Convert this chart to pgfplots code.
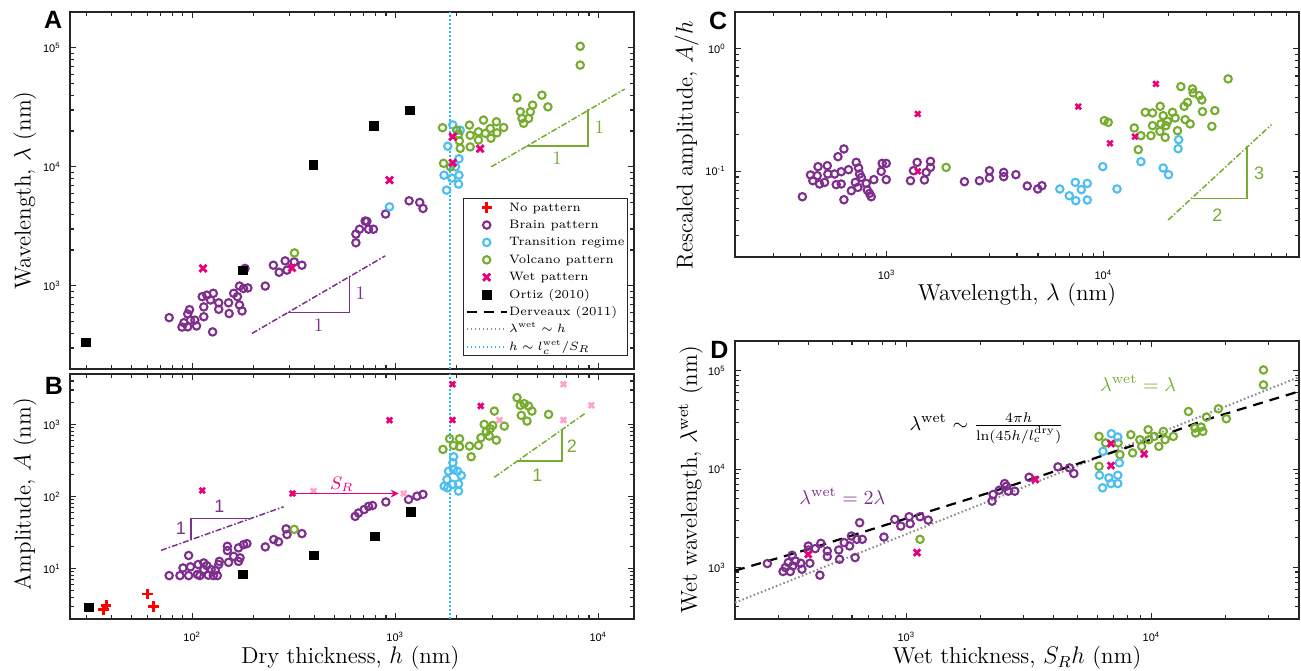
\documentclass[border=0pt]{standalone}
\usepackage{fontspec}
\usepackage{pgfplots}
\pgfplotsset{compat=1.18}
\usetikzlibrary{arrows.meta}
\newfontfamily\tickfont{Liberation Sans}
\newfontfamily\sansf{Liberation Sans}
\definecolor{cpurple}{RGB}{126,47,142}
\definecolor{ccyan}{RGB}{77,190,238}
\definecolor{cgreen}{RGB}{119,172,48}
\definecolor{cmag}{RGB}{230,0,126}
\definecolor{cpink}{RGB}{255,160,205}
\definecolor{cvline}{RGB}{40,185,240}
\definecolor{cgray}{RGB}{140,140,140}
\pgfplotsset{
  every axis/.append style={
    scale only axis, xmode=log, ymode=log, log basis x=10, log basis y=10,
    clip mode=individual,
    axis line style={line width=0.8pt, black!85},
    every tick/.append style={black!85, line width=0.55pt},
    major tick length=3.2pt, minor tick length=1.8pt,
    tick align=inside,
    xticklabel={\tickfont\fontsize{5.5}{6}\selectfont 10\textsuperscript{\pgfmathparse{int(round(\tick))}\pgfmathresult}},
    yticklabel={\tickfont\fontsize{5.5}{6}\selectfont 10\textsuperscript{\pgfmathparse{int(round(\tick))}\pgfmathresult}},
    yticklabel style={xshift=-1.2pt},
    xticklabel style={yshift=-3pt},
    label style={font=\fontsize{11.5}{13}\selectfont},
  },
}
\pgfplotsset{
  qmk/.style={only marks, legend image code/.code={\draw[mark repeat=2,mark phase=2,##1] plot coordinates {(0pt,0pt) (10pt,0pt) (20pt,0pt)};}},
  qbrain/.style={qmk, mark=o, mark size=1.85pt, cpurple, line width=1.05pt},
  qtrans/.style={qmk, mark=o, mark size=1.85pt, ccyan, line width=1.05pt},
  qvolc/.style={qmk, mark=o, mark size=1.85pt, cgreen, line width=1.05pt},
  qwet/.style={qmk, mark=x, mark size=2.3pt, cmag, line width=1.4pt},
  qwetlight/.style={qmk, mark=x, mark size=1.9pt, cpink, line width=1.3pt},
  qortiz/.style={qmk, mark=square*, mark size=2.2pt, black},
  qnopat/.style={qmk, mark=+, mark size=2.6pt, red, line width=1.3pt},
  qderv/.style={black, line width=1.1pt, dash pattern=on 5pt off 3.5pt},
  qlwet/.style={cgray, line width=1pt, dash pattern=on 0.8pt off 1.2pt},
  qhline/.style={cvline, line width=1pt, dash pattern=on 0.8pt off 1.2pt},
  qdd/.style={line width=0.75pt, dash pattern=on 3pt off 1pt on 0.8pt off 1pt},
  qtri/.style={line width=0.75pt},
}
\begin{document}
\begin{tikzpicture}
\useasboundingbox (0,0) rectangle (650.5pt,335pt);
% ---------------- A ----------------
\begin{axis}[
  at={(35pt,150.5pt)}, anchor=south west, width=282pt, height=178.5pt,
  xmin=25, xmax=15000, ymin=200, ymax=2e5,
  xtick={100,1000,10000}, xticklabels={},
  minor xtick={30,40,50,60,70,80,90,200,300,400,500,600,700,800,900,2000,3000,4000,5000,6000,7000,8000,9000},
  ytick={1000,10000,100000},
  minor ytick={200,300,400,500,600,700,800,900,2000,3000,4000,5000,6000,7000,8000,9000,20000,30000,40000,50000,60000,70000,80000,90000,200000},
  ylabel={Wavelength, $\lambda$ (nm)},
  ylabel style={at={(axis description cs:-0.0798,0.5)}, anchor=center},
  legend image code/.code={\draw[mark repeat=2,mark phase=2,#1] plot coordinates {(0pt,0pt) (10pt,0pt) (20pt,0pt)};},
  legend style={at={(0.697,0.478)}, anchor=north west, font=\fontsize{6.1}{7}\selectfont,
    draw=black!85, line width=0.5pt, inner xsep=1pt, inner ysep=0.5pt, row sep=0.9pt,
    nodes={inner sep=0.7pt, text height=4.9pt, text depth=1.5pt}},
  legend cell align=left,
]
\addplot[cvline, line width=1pt, dash pattern=on 0.8pt off 1.2pt, forget plot] coordinates {(1854,200) (1854,2e5)};
\addlegendimage{only marks, mark=+, mark size=2.6pt, red, line width=1.3pt}\addlegendentry{No pattern}
\addplot[qbrain] coordinates {(77,540) (89,450) (91,490) (95,580) (97,630) (98,515) (95,452) (103,515) (105,460) (114,550) (114,665) (112,810) (118,835) (123,760) (127,865) (135,720) (135,635) (126,410) (151,720) (152,585) (160,865) (167,810) (171,690) (176,615) (171,995) (179,950) (188,960) (229,995) (182,1400) (251,1490) (268,1300) (287,1620) (293,1355) (347,1490) (318,1590) (640,2300) (640,2720) (667,2990) (711,3500) (725,3480) (739,2990) (781,2990) (896,4010) (1170,5180) (1320,5020) (1370,4470)};
\addlegendentry{Brain pattern}
\addplot[qtrans] coordinates {(937,4610) (1920,22500) (2090,20300) (1815,14900) (2060,11700) (1980,10000) (1740,8500) (1900,8040) (2060,8500) (2050,7160) (1790,6370)};
\addlegendentry{Transition regime}
\addplot[qvolc] coordinates {(319,1890) (1710,21300) (1730,10700) (1870,10000) (2050,18800) (2090,14300) (2070,16500) (2320,22400) (2340,14700) (2340,18400) (2570,19700) (2570,16800) (2720,24700) (2780,19100) (2940,21000) (2960,17400) (3150,23900) (3170,19300) (3420,21400) (3980,38000) (4130,29000) (4210,25500) (4290,23200) (4540,25500) (4630,29000) (4750,33000) (5280,40000) (5650,31900) (8150,103000) (8150,71600) (2010,20300)};
\addlegendentry{Volcano pattern}
\addplot[qwet, mark size=2.5pt] coordinates {(113,1400) (310,1415) (937,7730) (1920,17900) (1920,10800) (2620,14200)};
\addlegendentry{Wet pattern}
\addplot[qortiz] coordinates {(30,335) (178,1350) (395,10400) (785,22100) (1180,29800)};
\addlegendentry{Ortiz (2010)}
\addlegendimage{black, line width=1.1pt, dash pattern=on 5pt off 3.5pt}\addlegendentry{Derveaux (2011)}
\addlegendimage{cgray, line width=1pt, dash pattern=on 0.8pt off 1.2pt}\addlegendentry{$\lambda^{\mathrm{wet}}\sim h$}
\addlegendimage{cvline, line width=1pt, dash pattern=on 0.8pt off 1.2pt}\addlegendentry{$h\sim l_c^{\mathrm{wet}}/S_R$}
\addplot[cpurple, qdd, forget plot] coordinates {(197,398) (893,1787)};
\addplot[cpurple, qtri, forget plot] coordinates {(298,597) (595,597) (595,1206)};
\addplot[cgreen, qdd, forget plot] coordinates {(2972,10000) (13490,45000)};
\addplot[cgreen, qtri, forget plot] coordinates {(4455,15000) (8890,15000) (8890,30500)};
\node[cpurple, font=\fontsize{9.5}{10}\selectfont] at (axis cs:419,468) {1};
\node[cpurple, font=\fontsize{9.5}{10}\selectfont] at (axis cs:673,863) {1};
\node[cgreen, font=\fontsize{9.5}{10}\selectfont] at (axis cs:6270,11780) {1};
\node[cgreen, font=\fontsize{9.5}{10}\selectfont] at (axis cs:10140,21700) {1};
\node[font=\sansf\bfseries\fontsize{12.5}{13}\selectfont] at (axis description cs:-0.030,0.978) {A};
\end{axis}
% ---------------- B ----------------
\begin{axis}[
  at={(35pt,25.5pt)}, anchor=south west, width=282pt, height=122.5pt,
  xmin=25, xmax=15000, ymin=2, ymax=5000,
  xtick={100,1000,10000},
  minor xtick={30,40,50,60,70,80,90,200,300,400,500,600,700,800,900,2000,3000,4000,5000,6000,7000,8000,9000},
  ytick={10,100,1000},
  minor ytick={2,3,4,5,6,7,8,9,20,30,40,50,60,70,80,90,200,300,400,500,600,700,800,900,2000,3000,4000,5000},
  xlabel={Dry thickness, $h$ (nm)},
  xlabel style={at={(axis description cs:0.497,-0.159)}, anchor=center},
  ylabel={Amplitude, $A$ (nm)},
  ylabel style={at={(axis description cs:-0.0798,0.51)}, anchor=center},
]
\addplot[qhline] coordinates {(1854,2) (1854,5000)};
\addplot[cpurple, qdd] coordinates {(70.2,17.9) (282,72)};
\addplot[cpurple, qtri] coordinates {(193,49.5) (98.6,49.5) (98.6,25.3)};
\addplot[cgreen, qdd] coordinates {(3077,185) (8570,1408)};
\addplot[cgreen, qtri] coordinates {(3980,309) (6620,309) (6620,853)};
\addplot[qbrain] coordinates {(77,8.0) (87,8.0) (90,10.2) (96,15.2) (96,8.0) (98,10.6) (106,8.3) (109,8.0) (114,12.0) (114,9.7) (120,8.1) (124,9.7) (127,8.0) (133,8.0) (135,11.4) (136,12.6) (107,11.4) (118,11.0) (130,9.5) (149,20.4) (149,17.8) (151,12.2) (160,14.8) (169,12.6) (172,14.1) (169,19.4) (179,21.5) (186,22.2) (229,20.0) (252,25.3) (266,23.5) (290,35.6) (293,29.7) (347,30.6) (635,53) (659,59) (703,66) (739,73) (773,75) (899,84) (1163,91) (1280,101) (1369,107)};
\addplot[qvolc] coordinates {(318,35) (1718,450) (1853,632) (1938,511) (2074,632) (2074,490) (2323,500) (2367,356) (2572,511) (2642,653) (2743,1000) (2807,792) (2939,872) (2905,689) (3077,1530) (3148,605) (3445,947) (3020,968) (3980,2350) (4130,1836) (4318,1940) (4536,1795) (4713,1530) (4178,1334) (4457,1111) (5692,1376)};
\addplot[qtrans] coordinates {(1938,356) (1922,294) (1831,224) (1938,237) (2027,224) (2114,196) (1798,172) (1743,139) (1915,147) (2050,150) (1812,132) (2050,119)};
\addplot[qwetlight] coordinates {(396,119) (1100,110) (3265,1150) (6745,3600) (6745,1150) (9245,1840)};
\addplot[qwet, mark size=1.9pt, line width=1.3pt] coordinates {(112,121) (312,110) (1915,3600) (1915,1150) (2640,1800) (937,1140)};
\addplot[qortiz] coordinates {(31,2.9) (177,8.3) (396,15.2) (796,28) (1194,61)};
\addplot[qnopat] coordinates {(36.5,2.7) (37.7,3.06) (60.3,4.45) (64.5,3.0)};
\draw[cmag, line width=0.6pt, -{Stealth[length=4pt,width=4pt]}] (axis cs:312,110) -- (axis cs:1040,110);
\node[cmag, font=\fontsize{9}{10}\selectfont] at (axis cs:546,147) {$S_R$};
\node[cpurple, font=\sansf\fontsize{9}{10}\selectfont] at (axis cs:136,73) {1};
\node[cpurple, font=\sansf\fontsize{9}{10}\selectfont] at (axis cs:88,36.7) {1};
\node[cgreen, font=\sansf\fontsize{9}{10}\selectfont] at (axis cs:5020,196) {1};
\node[cgreen, font=\sansf\fontsize{9}{10}\selectfont] at (axis cs:7410,500) {2};
\node[font=\sansf\bfseries\fontsize{12.5}{13}\selectfont] at (axis description cs:-0.0284,0.953) {B};
\end{axis}
% ---------------- C ----------------
\begin{axis}[
  at={(367.5pt,206.5pt)}, anchor=south west, width=282pt, height=122.5pt,
  xmin=200, xmax=80000, ymin=0.02, ymax=2,
  xtick={1000,10000},
  minor xtick={200,300,400,500,600,700,800,900,2000,3000,4000,5000,6000,7000,8000,9000,20000,30000,40000,50000,60000,70000,80000},
  ytick={0.1,1},
  minor ytick={0.02,0.03,0.04,0.05,0.06,0.07,0.08,0.09,0.2,0.3,0.4,0.5,0.6,0.7,0.8,0.9,2},
  xlabel={Wavelength, $\lambda$ (nm)},
  xlabel style={at={(axis description cs:0.5,-0.155)}, anchor=center},
  ylabel={Rescaled amplitude, $A/h$},
  ylabel style={at={(axis description cs:-0.086,0.457)}, anchor=center},
]
\addplot[cgreen, qdd] coordinates {(19930,0.0401) (59700,0.2407)};
\addplot[cgreen, qtri] coordinates {(25850,0.0598) (46080,0.0598) (46080,0.16)};
\addplot[qbrain] coordinates {(409,0.0621) (446,0.0935) (457,0.0839) (483,0.1093) (479,0.0922) (491,0.0789) (518,0.0813) (533,0.1113) (536,0.0952) (576,0.0952) (586,0.0779) (597,0.1318) (618,0.0994) (618,0.0789) (636,0.1524) (636,0.0587) (668,0.1032) (688,0.0695) (718,0.0813) (725,0.1185) (743,0.1066) (751,0.0952) (765,0.0893) (738,0.0740) (806,0.0798) (815,0.0705) (835,0.0661) (850,0.0621) (874,0.0856) (945,0.1) (955,0.1162) (997,0.1162) (997,0.0856) (1290,0.0839) (1331,0.1013) (1385,0.1185) (1496,0.0851) (1524,0.0981) (1595,0.1207) (1595,0.1078) (2288,0.0824) (2683,0.0839) (2984,0.1013) (2984,0.0883) (3472,0.0981) (3472,0.0905) (3953,0.094) (4460,0.076) (4986,0.0718) (5212,0.0764)};
\addplot[qvolc] coordinates {(1884,0.1078) (10110,0.2596) (10540,0.2512) (13900,0.2262) (14500,0.1504) (14920,0.1957) (15620,0.3034) (16590,0.1957) (16880,0.300) (16880,0.2362) (18250,0.2122) (18310,0.3396) (18900,0.2851) (18450,0.2439) (19310,0.1896) (19450,0.2362) (19790,0.2562) (20860,0.3034) (21470,0.2731) (22000,0.2149) (22800,0.492) (23620,0.3396) (24460,0.3662) (23870,0.2645) (25170,0.2439) (25790,0.471) (25980,0.437) (27690,0.4155) (28500,0.383) (28690,0.3075) (31690,0.2331) (32710,0.3133) (37670,0.5689)};
\addplot[qtrans] coordinates {(6302,0.0718) (6970,0.0633) (7430,0.0813) (7470,0.0576) (7918,0.0709) (8439,0.0798) (8439,0.0584) (9947,0.1093) (11570,0.0718) (14920,0.120) (18900,0.1066) (20000,0.094) (22280,0.1815) (22150,0.1532)};
\addplot[qwet, mark size=1.9pt, line width=1.3pt] coordinates {(1394,0.2944) (1394,0.1) (7670,0.3378) (17500,0.5176) (10740,0.1693) (14000,0.1921)};
\node[cgreen, font=\sansf\fontsize{9}{10}\selectfont] at (axis cs:33650,0.0435) {2};
\node[cgreen, font=\sansf\fontsize{9}{10}\selectfont] at (axis cs:52360,0.0967) {3};
\node[font=\sansf\bfseries\fontsize{12.5}{13}\selectfont] at (axis description cs:-0.030,0.963) {C};
\end{axis}
% ---------------- D ----------------
\begin{axis}[
  at={(367.5pt,25.5pt)}, anchor=south west, width=282pt, height=139pt,
  xmin=200, xmax=40000, ymin=300, ymax=2e5,
  xtick={1000,10000},
  minor xtick={200,300,400,500,600,700,800,900,2000,3000,4000,5000,6000,7000,8000,9000,20000,30000,40000},
  ytick={1000,10000,100000},
  minor ytick={300,400,500,600,700,800,900,2000,3000,4000,5000,6000,7000,8000,9000,20000,30000,40000,50000,60000,70000,80000,90000,200000},
  xlabel={Wet thickness, $S_Rh$ (nm)},
  xlabel style={at={(axis description cs:0.5,-0.141)}, anchor=center},
  ylabel={Wet wavelength, $\lambda^{\mathrm{wet}}$ (nm)},
  ylabel style={at={(axis description cs:-0.079,0.5)}, anchor=center},
]
\addplot[qlwet] coordinates {(200,440) (40000,86000)};
\addplot[qderv] coordinates {(200,930) (400,1540) (1000,3150) (2275,5950) (5870,12900) (10000,20000) (16220,31000) (40000,61500)};
\addplot[qbrain] coordinates {(271,1098) (314,911) (321,1000) (330,1124) (336,911) (342,1332) (344,1038) (353,1166) (371,1105) (375,961) (398,1654) (398,1507) (404,1105) (425,1557) (448,1762) (444,836) (476,1472) (476,1292) (530,1507) (534,1213) (558,1791) (587,1654) (597,2089) (618,1262) (628,1934) (645,2854) (661,1934) (810,2040) (897,3083) (949,2637) (1027,3282) (1036,2788) (1137,3282) (1228,3033) (2237,4721) (2259,5520) (2393,6100) (2518,7130) (2561,6700) (2605,5960) (2770,5960) (3168,8260) (4155,10530) (4631,10280) (4823,9006)};
\addplot[qvolc] coordinates {(1137,1934) (6112,21480) (6112,10670) (6500,18420) (7316,18420) (7440,14020) (8238,22350) (8378,14590) (8966,19890) (9120,17010) (9694,25110) (9758,19890) (10270,21480) (10720,17010) (11180,24130) (11370,19890) (12280,21480) (14160,38460) (15050,26120) (15150,23250) (15940,26730) (16210,24130) (16770,33760) (18760,40960) (20210,32440) (28650,101600) (28650,71660)};
\addplot[qtrans] coordinates {(6340,15140) (6864,22870) (7290,21180) (6140,8654) (6704,8145) (7290,8654) (6317,6450) (7290,7130) (7400,11560) (6837,7130)};
\addplot[qwet] coordinates {(398,1363) (1106,1418) (3359,7830) (6837,18120) (6837,10850) (9335,14250)};
\node[cpurple, font=\fontsize{10}{12}\selectfont] at (axis cs:548,5305) {$\lambda^{\mathrm{wet}}=2\lambda$};
\node[cgreen, font=\fontsize{10}{12}\selectfont] at (axis cs:8816,74500) {$\lambda^{\mathrm{wet}}=\lambda$};
\node[black, font=\fontsize{10}{12}\selectfont] at (axis cs:2126,26120) {$\lambda^{\mathrm{wet}}\sim\frac{4\pi h}{\ln(45h/l_{\mathrm{c}}^{\mathrm{dry}})}$};
\node[font=\sansf\bfseries\fontsize{12.5}{13}\selectfont] at (axis description cs:-0.0275,0.968) {D};
\end{axis}
\end{tikzpicture}
\end{document}
